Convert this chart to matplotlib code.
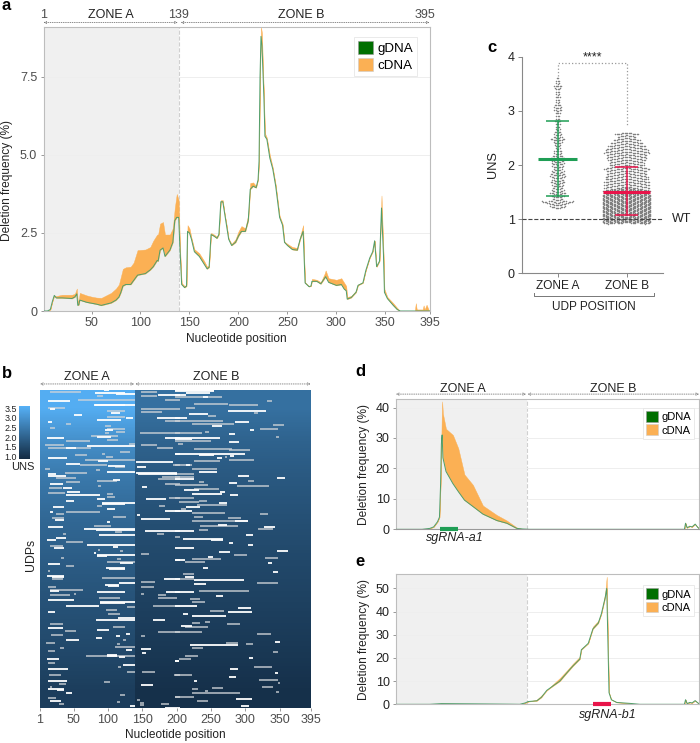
# Deletion frequency panels, UDP heatmap and UNS swarm
import matplotlib
matplotlib.use("Agg")
import matplotlib.pyplot as plt
import numpy as np
from matplotlib.colors import LinearSegmentedColormap
from matplotlib.patches import Patch

plt.rcParams['font.family'] = ['Liberation Sans', 'DejaVu Sans']

# panel a
pos_a = [1,5,8,10,12,14,20,30,33,35,36,37,38,45,50,55,60,65,70,75,78,80,82,85,90,93,97,105,110,113,117,118,120,123,125,130,133,135,137,139,140,141,142,145,147,148,150,152,155,160,165,168,170,172,175,178,180,182,184,186,188,190,193,197,200,203,207,210,212,215,218,220,221,222,223,224,225,226,227,229,232,235,238,242,245,247,250,255,260,263,266,267,268,272,274,275,280,284,288,289,292,300,305,308,310,311,315,320,322,327,330,334,337,339,341,344,346,348,349,352,358,362,365,380,381,382,388,389,390,392,394,395]
gdna_a = [0,0,.05,.3,.5,.42,.42,.40,.45,.55,.18,.2,.35,.28,.25,.22,.18,.22,.26,.35,.45,.6,.8,.85,.85,.98,1.15,1.2,1.32,1.42,1.62,1.6,1.95,2.02,1.75,1.95,2.2,2.9,3.0,3.0,2.2,1.5,.85,.75,.8,2.55,2.5,2.3,1.9,1.75,1.5,1.35,1.4,2.45,2.4,2.33,2.45,3.5,3.5,3.1,2.7,2.3,2.1,2.2,2.4,2.55,2.55,2.9,3.9,4.0,3.95,4.2,4.8,7.5,8.8,8.5,7.6,6.8,5.6,5.5,4.9,4.55,4.0,3.0,2.75,2.2,2.1,1.97,1.95,2.3,2.55,1.7,.9,.78,.8,.95,.95,.87,1.05,1.1,.92,.82,.85,.7,.65,.38,.43,.6,.82,.9,1.3,1.7,1.9,2.25,1.42,1.6,3.3,1.8,.6,.4,.18,.05,0,0,0,0,0,0,0,0,0,0]
cdna_a = [0,0,.05,.3,.5,.48,.52,.52,.55,.72,.3,.35,.58,.5,.46,.43,.42,.5,.58,.72,.85,1.1,1.35,1.4,1.42,1.55,1.95,1.97,2.05,2.25,2.45,2.45,2.8,2.85,2.45,2.45,2.65,3.3,3.75,3.55,2.4,1.55,.9,.8,.85,2.75,2.65,2.35,1.98,1.85,1.6,1.42,1.45,2.5,2.45,2.38,2.5,3.55,3.55,3.1,2.75,2.32,2.15,2.3,2.55,2.72,2.65,3.1,4.1,4.12,4.0,4.25,4.85,7.7,9.1,8.9,7.8,6.9,5.7,5.55,5.0,4.6,4.05,3.05,2.8,2.22,2.15,2.05,2.02,2.4,2.75,1.75,.92,.8,.82,1.03,1.0,.92,1.2,1.3,1.05,1.0,1.05,.9,.8,.45,.48,.65,.85,.92,1.32,1.72,1.92,2.25,1.42,1.62,3.7,1.9,.7,.45,.25,.1,0,0,.25,.05,.05,.18,.05,.2,.05,0]

# panel d
pos_d = [1,35,45,50,55,57.5,59,60,60.5,61,62,66,75,82,90,101,114,132,145,158,166,175,376,377.5,379.5,383,386,390,393.5,395]
gdna_d = [0,0,.3,.8,2.5,4,15,28,30,31,23.5,19,15,12.4,9.6,7.5,5,2.9,2,.3,.1,0,0,2,.5,1,.8,1.7,.6,.3]
cdna_d = [0,0,.3,.8,2.5,4,15,30,38,42,38,33,31,26.6,18,14.6,7.8,4.7,2.9,.6,.1,0,0,2,.5,1,.8,1.7,.6,.3]

# panel e
pos_e = [1,45,60,100,150,162,169,173,184,190,197,205,214,223,231,240,242,251,257,264,268,273,275,277,278,281,288,305,318,376,377.5,379.5,383,386,390,393.5,395]
gdna_e = [0,.0,.3,.2,.05,0,.6,1.2,1.5,3,6,7.9,10,13.5,16.5,19.5,23.5,26.3,32.5,35,39,46,50,20,5,2,.8,.4,0,0,2,.3,.8,.6,1.6,.6,.3]
cdna_e = [0,.0,.3,.2,.05,0,.6,1.2,2,3.8,6,8.6,11.3,14.5,17.5,20.5,24,26.3,33.5,36,39,48,55,20,5,2,1,.4,0,0,2,.3,.8,.6,1.6,.6,.3]

# panel b: UNS down the sorted rows, and the deleted stretch of each UDP
rows_uns = [0,40,80,120,160,200,240,280,318]
uns_zone_a = [3.55,2.9,2.45,2.15,1.95,1.75,1.6,1.45,1.25]
uns_zone_b = [2.3,2.0,1.8,1.65,1.5,1.38,1.25,1.12,.98]

white_segs = [(3,81,125),(0,94,101),(4,112,139),(11,13,28),(11,28,45),(15,81,125),(15,79,139),(19,15,23),(23,105,117),(25,51,62),(28,126,137),(30,84,119),(32,12,19),(40,96,108),(47,84,104),(48,11,36),(56,69,139),(58,39,53),(68,12,40),(71,85,100),(74,39,59),(76,100,125),(82,98,139),(84,12,24),(86,13,39),(90,108,118),(94,16,34),(98,35,48),(102,40,59),(105,39,89),(109,84,96),(111,39,51),(113,92,139),(114,92,125),(117,20,36),(119,98,110),(122,15,20),(130,23,36),(132,98,103),(137,13,35),(139,65,139),(140,83,139),(145,87,139),(148,24,39),(150,11,24),(155,70,139),(158,21,36),(157,107,115),(163,80,83),(165,84,139),(166,84,98),(173,118,137),(174,12,30),(178,97,125),(179,102,125),(186,11,36),(187,18,36),(193,116,139),(195,96,116),(196,100,116),(201,16,28),(202,84,125),(210,13,50),(212,88,139),(213,88,125),(216,39,87),(222,13,23),(228,115,139),(230,83,139),(238,12,35),(240,84,101),(244,126,132),(246,112,117),(248,83,92),(250,39,58),(260,126,135),(265,98,113),(266,98,113),(267,116,125),(269,11,28),(275,122,139),(279,13,42),(291,13,41),(299,13,36),(300,26,36),(303,39,47),(311,15,31),(316,132,139),
    (5,173,205),(28,172,205),(48,183,205),(64,198,205),(72,141,195),(77,142,155),(83,141,200),(84,144,200),(97,150,157),(109,156,185),(121,183,205),(125,142,147),(129,148,191),(141,154,205),(170,198,205),(189,181,205),(202,185,205),(230,166,183),(259,148,162),(263,150,155),(271,198,203),(295,148,166),(318,183,205),
    (0,198,255),(1,198,255),(3,213,249),(5,198,213),(7,239,245),(21,275,330),(24,218,245),(28,198,215),(32,285,306),(36,251,266),(40,307,313),(44,276,285),(48,198,263),(49,198,222),(52,276,291),(64,198,300),(65,232,254),(66,278,284),(68,259,266),(75,213,220),(82,233,259),(86,289,306),(88,346,358),(89,198,225),(93,276,288),(100,211,232),(102,263,270),(104,223,266),(105,278,289),(113,261,273),(117,213,234),(121,198,223),(131,285,304),(135,260,273),(137,327,344),(141,198,226),(145,301,311),(149,210,267),(150,250,267),(153,276,282),(155,304,311),(158,198,226),
    (161,346,362),(162,262,278),(167,246,253),(170,198,212),(173,333,339),(178,239,246),(182,340,347),(187,212,226),(190,226,298),(194,226,243),(202,198,226),(206,258,267),(216,198,230),(218,290,309),(222,275,310),(224,209,217),(226,222,272),(236,207,222),(252,343,350),(255,220,289),(268,306,311),(271,198,204),(279,278,289),(283,343,348),(287,276,287),(291,226,230),(309,287,310),(316,294,305)]

pale_segs = [(2,16,60),(6,84,93),(10,57,139),(18,13,37),(21,98,125),(27,98,125),(34,39,46),(36,96,104),(38,15,23),(39,98,125),(42,112,125),(43,96,102),(46,76,115),(50,98,115),(51,39,74),(54,131,139),(55,8,36),(58,12,76),(62,118,132),(64,92,96),(65,52,70),(67,97,108),(70,66,139),(75,59,98),(77,110,125),(79,9,16),(80,83,88),(83,38,69),(88,25,54),(91,84,113),(92,39,59),(96,86,90),(98,14,33),(103,13,37),(104,98,107),(107,98,110),(116,84,91),(122,39,88),(124,25,36),(127,107,126),(128,19,36),(136,79,105),(142,110,120),(144,35,39),(152,39,63),(156,15,34),(160,85,88),(161,117,122),(168,32,36),(169,113,119),(172,98,139),(176,39,50),(181,13,16),(188,92,139),(189,18,35),(197,12,25),(200,16,63),(204,50,54),(205,16,44),(208,87,117),(217,128,139),(220,97,113),(224,100,117),(234,15,34),(237,108,125),(241,37,54),(245,17,35),(250,122,126),(253,10,23),(254,113,117),(257,110,139),(258,30,36),(261,13,23),(266,68,139),(273,13,23),(277,115,119),(282,128,139),(285,14,31),(292,94,103),(294,28,39),(297,15,18),(305,118,125),(308,12,24),(312,113,117),(314,28,36),
    (2,148,171),(6,148,171),(10,183,205),(19,148,205),(22,148,178),(31,183,205),(43,147,205),(55,148,171),(58,171,194),(75,194,205),(87,178,205),(89,173,205),(94,183,205),(108,189,205),(116,175,183),(144,171,182),(147,198,205),(164,148,160),(170,197,205),(192,148,169),(197,148,167),(204,148,153),(205,173,184),(208,173,200),(216,166,205),(242,173,205),(246,148,154),(282,149,168),(285,196,205),(307,198,205),(310,142,147),(313,146,153),(315,146,153),(314,177,189),
    (7,198,266),(11,331,339),(14,226,275),(15,276,318),(18,213,227),(23,312,319),(26,245,258),(31,198,267),(34,223,283),(35,341,356),(39,322,348),(42,241,247),(43,198,237),(47,345,349),(51,198,250),(54,202,209),(59,226,280),(60,276,307),(67,270,274),(70,276,313),(71,226,263),(75,198,222),(79,223,259),(84,198,226),(87,198,225),(91,304,312),(92,233,240),(95,198,245),(96,288,334),(99,226,261),(108,198,226),(111,232,244),(112,204,232),(115,230,273),(119,207,213),(123,223,271),(124,322,333),(127,225,239),(128,275,294),(131,222,304),(136,234,289),(139,319,341),(140,232,246),
    (165,284,302),(168,328,348),(169,223,265),(172,212,242),(184,209,225),(189,198,225),(193,317,347),(201,232,305),(209,220,234),(212,223,242),(221,249,269),(232,242,248),(233,223,234),(234,273,292),(237,212,245),(242,198,237),(244,317,338),(253,272,289),(254,301,311),(258,223,239),(262,341,347),(266,212,231),(269,203,221),(277,312,339),(285,198,223),(290,320,347),(293,347,351),(297,325,340),(298,251,267),(299,222,231),(301,242,246),(302,345,349),(303,223,293),(307,198,225),(311,230,245)]

# panel c: swarm rows as (UNS level, dots on that level)
levels_a = [3.6,3.55,3.5,3.45,3.4,3.35,3.3,3.25,3.2,3.15,3.1,3.05,3.0,2.95,2.9,2.85,2.8,2.75,2.7,2.65,2.6,2.55,2.5,2.45,2.4,2.35,2.3,2.25,2.2,2.15,2.1,2.05,2.0,1.95,1.9,1.85,1.8,1.75,1.7,1.65,1.6,1.55,1.5,1.45,1.4,1.35,1.3,1.25,1.2]
counts_a = [2,3,3,6,5,3,3,4,3,3,5,6,6,4,3,3,5,4,3,4,5,6,7,11,7,5,4,6,6,8,11,9,10,9,7,10,11,12,9,11,9,8,10,12,10,8,13,24,12]
levels_b = [2.6,2.55,2.5,2.45,2.4,2.35,2.3,2.25,2.2,2.15,2.1,2.05,2.0,1.95,1.9,1.85,1.8,1.75,1.7,1.65,1.6,1.575,1.55,1.525,1.5,1.475,1.45,1.425,1.4,1.375,1.35,1.325,1.3,1.275,1.25,1.225,1.2,1.175,1.15,1.125,1.1,1.075,1.05,1.025,1.0,.975,.95]
counts_b = [18,14,20,24,28,32,34,30,30,28,26,26,34,30,30,32,32,34,34,34,36,30,34,36,36,36,36,36,36,36,36,36,36,36,36,36,36,36,36,36,36,36,36,36,34,28,14]
mean_sd_a = (2.12, 1.42, 2.81)
mean_sd_b = (1.51, 1.07, 1.97)

W, H = 700, 743
GREEN = '#4f9e6b'
ORANGE = '#fbb054'
DARK = '#006f00'
ZONE_BG = '#f0f0f0'
SPINE = '#bdbdbd'
TICK = '#4d4d4d'


def box(left, top, right, bottom):
    return fig.add_axes([left / W, 1 - bottom / H, (right - left) / W, (bottom - top) / H])


def zone_arrow(ax, x0, x1, y):
    ax.annotate('', xy=(x0, y), xytext=(x1, y), xycoords=ax.get_xaxis_transform(),
                arrowprops=dict(arrowstyle='<->', ls=':', color='#777777', lw=.6,
                                shrinkA=0, shrinkB=0, mutation_scale=4))


def deletion_panel(ax, pos, gdna, cdna, ymax, yticks, ylabels, border, loc_box, leg_size):
    ax.axvspan(1, border, color=ZONE_BG, lw=0, zorder=0)
    ax.axvline(border, color='#d0d0d0', ls='--', lw=.8, zorder=1)
    for t in yticks[1:]:
        ax.axhline(t, color='#eeeeee', lw=.7, zorder=1)
    ax.fill_between(pos, gdna, cdna, color=ORANGE, lw=.3, zorder=2)
    ax.plot(pos, gdna, color=GREEN, lw=.7, zorder=3)
    ax.set_xlim(1, 395)
    ax.set_ylim(0, ymax)
    ax.set_yticks(yticks)
    ax.set_yticklabels(ylabels)
    for s in ax.spines.values():
        s.set_color(SPINE)
    ax.tick_params(axis='both', length=2.5, width=.6, color='#888888', pad=2)
    ax.set_ylabel('Deletion frequency (%)', fontsize=8.6, color='#222222', labelpad=4)
    leg = ax.legend(handles=[Patch(facecolor=DARK, edgecolor='#999999', lw=.4, label='gDNA'),
                             Patch(facecolor=ORANGE, edgecolor='#cccccc', lw=.4, label='cDNA')],
                    loc='upper right', bbox_to_anchor=loc_box, fontsize=leg_size, frameon=True,
                    fancybox=False, edgecolor='#e6e6e6', framealpha=1, borderpad=.3,
                    labelspacing=.2, handlelength=1.1, handleheight=1.1, handletextpad=.3,
                    borderaxespad=0)
    leg.get_frame().set_linewidth(.6)


fig = plt.figure(figsize=(7, 7.43), dpi=100)

# a
ax_a = box(43.5, 27.3, 429.5, 311)
deletion_panel(ax_a, pos_a, gdna_a, cdna_a, 9.09, [0, 2.5, 5, 7.5], ['0', '2.5', '5.0', '7.5'], 139, (.967, .965), 9.6)
ax_a.set_xticks([50, 100, 150, 200, 250, 300, 350, 395])
ax_a.tick_params(axis='both', labelsize=9, labelcolor=TICK)
ax_a.set_xlabel('Nucleotide position', fontsize=8.6, color='#222222', labelpad=3)
ax_a.yaxis.set_label_coords(-.08, .46)
zone_arrow(ax_a, 1, 138, 1.017)
zone_arrow(ax_a, 141, 395, 1.017)
for x, t in [(1, '1'), (139, '139'), (395, '395')]:
    ax_a.text(x - (5 if x == 395 else 0), 1.034, t, transform=ax_a.get_xaxis_transform(), ha='center', fontsize=9, color=TICK)
ax_a.text(70, 1.034, 'ZONE A', transform=ax_a.get_xaxis_transform(), ha='center', fontsize=9, color='#222222')
ax_a.text(264, 1.034, 'ZONE B', transform=ax_a.get_xaxis_transform(), ha='center', fontsize=9, color='#222222')

# b
ggplot_blue = LinearSegmentedColormap.from_list('uns', ['#132B43', '#56B1F7'])
ax_b = box(40, 390, 310.5, 708)
img = ax_b.imshow(np.array(uns_zone_a)[:, None], extent=(1, 139, 318, 0), aspect='auto', cmap=ggplot_blue,
                  vmin=.86, vmax=3.62, interpolation='bilinear')
ax_b.imshow(np.array(uns_zone_b)[:, None], extent=(139, 395, 318, 0), aspect='auto', cmap=ggplot_blue,
            vmin=.86, vmax=3.62, interpolation='bilinear')
wr, ws, we = zip(*white_segs)
pr, ps, pe = zip(*pale_segs)
ax_b.hlines(pr, ps, pe, color='#d0d4d8', lw=1.1, alpha=.9)
ax_b.hlines(wr, ws, we, color='white', lw=1.3)
ax_b.set_xlim(1, 395)
ax_b.set_ylim(318, 0)
ax_b.set_yticks([])
ax_b.set_xticks([1, 50, 100, 150, 200, 250, 300, 350, 395])
ax_b.tick_params(axis='x', labelsize=9, labelcolor=TICK, length=2.5, width=.6, color='#888888', pad=2)
for s in ax_b.spines.values():
    s.set_visible(False)
ax_b.set_xlabel('Nucleotide position', fontsize=8.6, color='#222222', labelpad=2)
ax_b.set_ylabel('UDPs', fontsize=8.8, color='#222222', labelpad=2, y=.48)
zone_arrow(ax_b, 1, 138, 1.019)
zone_arrow(ax_b, 140, 395, 1.019)
ax_b.text(70, 1.03, 'ZONE A', transform=ax_b.get_xaxis_transform(), ha='center', fontsize=9, color='#222222')
ax_b.text(257, 1.03, 'ZONE B', transform=ax_b.get_xaxis_transform(), ha='center', fontsize=9, color='#222222')

cax = box(19.3, 406, 30, 459)
cb = fig.colorbar(img, cax=cax, ticks=[1, 1.5, 2, 2.5, 3, 3.5])
cb.outline.set_visible(False)
cb.ax.yaxis.set_ticks_position('left')
cb.ax.set_yticklabels(['1.0', '1.5', '2.0', '2.5', '3.0', '3.5'])
cb.ax.tick_params(labelsize=6.4, length=0, pad=1.5, labelcolor='#222222')
fig.text(23 / W, 1 - 467 / H, 'UNS', fontsize=8, ha='center', va='center', color='#222222')

# c
ax_c = box(521.7, 56.7, 663, 273.3)
for cat, levels, counts, bend in [(0, levels_a, counts_a, .35), (1, levels_b, counts_b, -.22)]:
    xs, ys = [], []
    for lev, n in zip(levels, counts):
        off = (np.arange(n) - (n - 1) / 2) * .0196
        xs.extend(cat + off)
        ys.extend(lev + bend * np.abs(off))
    ax_c.scatter(xs, ys, s=1.2, color='#808080', linewidths=0, zorder=2)
ax_c.axhline(1, color='#444444', ls='--', lw=.8, zorder=3)
for cat, (m, lo, hi), col, half in [(0, mean_sd_a, '#1f9e55', .28), (1, mean_sd_b, '#e8144a', .34)]:
    ax_c.plot([cat, cat], [lo, hi], color=col, lw=1.1, zorder=4)
    ax_c.hlines([lo, hi], cat - .17, cat + .17, color=col, lw=1.1, zorder=4)
    ax_c.hlines(m, cat - half, cat + half, color=col, lw=2.2, zorder=5)
ax_c.plot([0, 0, 1, 1], [3.65, 3.88, 3.88, 2.72], color='#999999', ls=':', lw=.9)
ax_c.text(.5, 3.87, '****', ha='center', va='bottom', fontsize=9, color='#222222', linespacing=1)
ax_c.text(1.65, 1, 'WT', ha='left', va='center', fontsize=9, color='#222222', clip_on=False)
ax_c.set_xlim(-.52, 1.526)
ax_c.set_ylim(0, 4)
ax_c.set_yticks([0, 1, 2, 3, 4])
ax_c.set_xticks([0, 1])
ax_c.set_xticklabels(['ZONE A', 'ZONE B'])
ax_c.tick_params(axis='both', labelsize=9, labelcolor='#222222', length=3, width=.7, color='#888888', pad=2)
ax_c.tick_params(axis='x', labelsize=8.6)
ax_c.spines['top'].set_visible(False)
ax_c.spines['right'].set_visible(False)
ax_c.spines['left'].set_color('#888888')
ax_c.spines['bottom'].set_color('#888888')
ax_c.set_ylabel('UNS', fontsize=9.2, color='#222222', labelpad=6)
ax_c.plot([-.34, -.34, 1.39, 1.39], [-.37, -.42, -.42, -.37], color='#777777', lw=.7, clip_on=False)
ax_c.text(.52, -.62, 'UDP POSITION', ha='center', va='center', fontsize=8.5, color='#222222')

# d
ax_d = box(396, 399.3, 699, 529.3)
deletion_panel(ax_d, pos_d, gdna_d, cdna_d, 42.7, [0, 10, 20, 30, 40], ['0', '10', '20', '30', '40'], 171, (.985, .935), 8)
ax_d.set_xticks([])
ax_d.tick_params(axis='y', labelsize=9, labelcolor='#222222')
ax_d.spines['bottom'].set_color('#999999')
ax_d.hlines(0, 58, 82, color='#1f9e55', lw=3, clip_on=False, zorder=6)
ax_d.text(78, -.07, 'sgRNA-a1', transform=ax_d.get_xaxis_transform(), ha='center', va='center', fontsize=9, style='italic', color='#222222')
zone_arrow(ax_d, 1, 170, 1.04)
zone_arrow(ax_d, 172, 395, 1.04)
ax_d.text(88, 1.06, 'ZONE A', transform=ax_d.get_xaxis_transform(), ha='center', fontsize=9, color='#222222')
ax_d.text(284, 1.06, 'ZONE B', transform=ax_d.get_xaxis_transform(), ha='center', fontsize=9, color='#222222')

# e
ax_e = box(396, 574, 699, 704.3)
deletion_panel(ax_e, pos_e, gdna_e, cdna_e, 56.2, [0, 10, 20, 30, 40, 50], ['0', '10', '20', '30', '40', '50'], 171, (.985, .915), 8)
ax_e.set_xticks([])
ax_e.tick_params(axis='y', labelsize=9, labelcolor='#222222')
ax_e.hlines(0, 257, 281, color='#e8144a', lw=3, clip_on=False, zorder=6)
ax_e.text(277, -.085, 'sgRNA-b1', transform=ax_e.get_xaxis_transform(), ha='center', va='center', fontsize=9, style='italic', color='#222222')

# panel letters
for t, x, y in [('a', 2, 6), ('b', 2, 373), ('c', 487, 47), ('d', 355, 372), ('e', 355, 561)]:
    fig.text(x / W, 1 - y / H, t, fontsize=12, fontweight='bold', va='center', color='black')

fig.savefig('out.png', dpi=100)
